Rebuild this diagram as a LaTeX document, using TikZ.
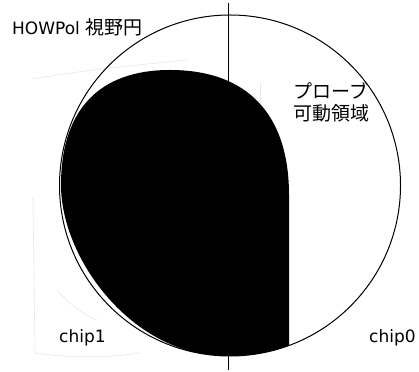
\documentclass[tikz,border=0pt]{standalone}
\usepackage{fontspec}
\setmainfont{DejaVu Sans}
\newfontfamily\jpfont{Noto Sans CJK JP}
\tikzset{
  lbl/.style={inner sep=0pt, anchor=base west, font=\fontsize{17}{20}\selectfont},
  jlbl/.style={inner sep=0pt, anchor=base west, font=\jpfont\fontsize{19}{22}\selectfont},
  faint/.style={draw=black!9, line width=0.6pt},
}
\begin{document}
\begin{tikzpicture}[x=1pt,y=1pt]
\useasboundingbox (0,0) rectangle (419,371);
\fill[white] (0,0) rectangle (419,371);
% faint sketch traces
\draw[faint] (33,292) .. controls (90,302) and (140,306) .. (187,311);
\draw[faint] (33,173) -- (35,18) .. controls (60,14) and (100,12) .. (140,18);
\draw[faint] (57,81) .. controls (70,66) and (85,56) .. (97,51);
\draw[faint] (260,288) -- (260,268);
% probe movable region
\begin{scope}
  \clip (230,185.5) circle[radius=170.5pt];
  \fill[black] (61,186) .. controls (61,261) and (99,301) .. (170,301)
    .. controls (247,301) and (289,257) .. (289,176)
    -- (289,-10) -- (210,-10) -- (210,16)
    .. controls (125,26) and (61,116) .. (61,186) -- cycle;
\end{scope}
% HOWPol field of view
\node[draw, circle, line width=1pt, minimum size=341pt, inner sep=0pt] (fov) at (230,185.5) {};
\coordinate (vtop) at (228,368);
\coordinate (vbot) at (228,1);
\draw[line width=0.8pt] (vtop) -- (vbot);
% labels
\node[lbl] (howpol) at (12,336) {HOWPol {\jpfont\fontsize{19}{22}\selectfont 視野円}};
\node[jlbl] (probe1) at (293,272.5) {プローブ};
\node[jlbl] (probe2) at (293,250.5) {可動領域};
\node[lbl] (chip1) at (59,28) {chip1};
\node[lbl] (chip0) at (369,28) {chip0};
\end{tikzpicture}
\end{document}
